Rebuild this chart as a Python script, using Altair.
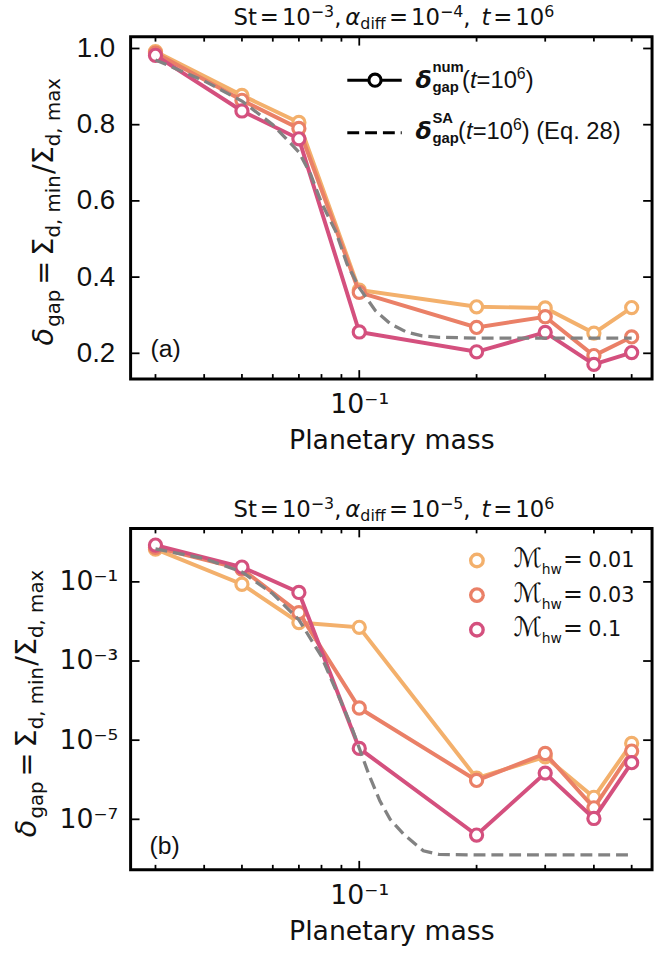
import altair as alt
import pandas as pd

# ---------------- data ----------------
mass = [0.03, 0.05, 0.07, 0.1, 0.2, 0.3, 0.4, 0.5]
hw_labels = ["0.01", "0.03", "0.1"]
hw_colors = ["#f3b06c", "#ea8067", "#d4507e"]

gap_a_hw001 = [0.992, 0.877, 0.806, 0.366, 0.322, 0.319, 0.253, 0.320]
gap_a_hw003 = [0.988, 0.864, 0.790, 0.360, 0.268, 0.296, 0.194, 0.243]
gap_a_hw01 = [0.982, 0.836, 0.763, 0.256, 0.204, 0.255, 0.171, 0.202]

gap_b_hw001 = [0.67, 0.087, 0.0094, 0.0071, 1.1e-6, 3.8e-6, 3.6e-7, 8.3e-6]
gap_b_hw003 = [0.75, 0.21, 0.0167, 6.5e-5, 9.6e-7, 4.6e-6, 1.95e-7, 5.3e-6]
gap_b_hw01 = [0.85, 0.237, 0.054, 6.2e-6, 4.0e-8, 1.47e-6, 1.05e-7, 2.7e-6]

sa_mass_a = [0.03, 0.04, 0.05, 0.06, 0.07, 0.075, 0.08, 0.087, 0.093, 0.1,
             0.11, 0.12, 0.132, 0.145, 0.16, 0.2, 0.3, 0.4, 0.5]
sa_gap_a = [0.970, 0.915, 0.862, 0.800, 0.728, 0.670, 0.595, 0.520, 0.435, 0.372,
            0.312, 0.278, 0.256, 0.246, 0.242, 0.240, 0.240, 0.240, 0.240]

sa_mass_b = [0.03, 0.04, 0.05, 0.06, 0.07, 0.08, 0.085, 0.09, 0.095, 0.1,
             0.106, 0.113, 0.12, 0.13, 0.146, 0.16, 0.2, 0.3, 0.4, 0.5]
sa_gap_b = [0.68, 0.39, 0.178, 0.05, 0.011, 1.3e-3, 3.2e-4, 8.9e-5, 2.5e-5, 6.3e-6,
            1.3e-6, 2.9e-7, 1.0e-7, 4.2e-8, 1.6e-8, 1.3e-8, 1.26e-8, 1.26e-8, 1.26e-8, 1.26e-8]

x_minor_ticks = [0.03, 0.04, 0.05, 0.06, 0.07, 0.08, 0.09, 0.2, 0.3, 0.4, 0.5]
x_major_ticks = [0.1]
x_tick_labels = ["10⁻¹"]
ya_ticks = [0.2, 0.4, 0.6, 0.8, 1.0]
yb_ticks = [1e-7, 1e-5, 1e-3, 1e-1]
yb_tick_labels = ["10⁻⁷", "10⁻⁵", "10⁻³", "10⁻¹"]

# ---------------- layout constants ----------------
W = 527
H_A = 346
H_B = 345
X_DOMAIN = [0.0259, 0.564]
YA_DOMAIN = [0.1325, 1.031]
YB_DOMAIN = [5.3e-9, 2.24]
INK = "#111111"

DV = {' ': 0.318, '(': 0.390, ')': 0.390, ',': 0.318, '.': 0.318, '/': 0.337,
      '=': 0.838, '−': 0.838, 'a': 0.613, 'd': 0.635, 'g': 0.635, 'i': 0.278,
      'm': 0.974, 'n': 0.634, 'p': 0.635, 'x': 0.592, 'δ': 0.612, 'Σ': 0.632,
      'S': 0.635, 't': 0.392, 'α': 0.659, 'f': 0.352, 'h': 0.634, 'w': 0.818}
AR = {' ': 0.278, '(': 0.333, ')': 0.333, '=': 0.584, 't': 0.278, 'E': 0.667,
      'q': 0.556, '.': 0.278}
for _d in "0123456789":
    DV[_d] = 0.636
    AR[_d] = 0.556


def tw(txt, size, table):
    return sum(table.get(c, 0.6) for c in txt) * size


def row(text, x, y, size, font="DejaVu Sans", style="normal", weight="normal", angle=0):
    return dict(text=text, px=x, py=y, size=size, font=font, style=style,
                weight=weight, angle=angle)


def title_rows(exp_text):
    b = -12
    M, S = 23, 16
    # (text, size, dy, style, gap before)
    pieces = [("St", M, 0, "normal", 0), ("=", M, 0, "normal", 3), ("10", M, 0, "normal", 3),
              ("−3", S, -8, "normal", 0), (",", M, 0, "normal", 0), ("α", M, 0, "italic", 4),
              ("diff", S, 4, "normal", 0), ("=", M, 0, "normal", 3), ("10", M, 0, "normal", 3),
              (exp_text, S, -8, "normal", 0), (",", M, 0, "normal", 0), ("t", M, 0, "italic", 11),
              ("=", M, 0, "normal", 3), ("10", M, 0, "normal", 3), ("6", S, -8, "normal", 0)]
    x = 104
    rows = []
    for txt, size, dy, style, pre in pieces:
        x += pre
        rows.append(row(txt, x, b + dy, size, style=style))
        x += tw(txt, size, DV)
    return rows


def ytitle_rows(x_main):
    main, sub = 29, 20
    pieces = [("δ", main, 0, "italic", 0), ("gap", sub, 7, "normal", 1),
              ("=", main, 0, "normal", 5), ("Σ", main, 0, "normal", 5),
              ("d, min", sub, 7, "normal", 0), ("/", main, 0, "normal", 1),
              ("Σ", main, 0, "normal", 0), ("d, max", sub, 7, "normal", 0)]
    y = 312
    rows = []
    for txt, size, dx, style, pre in pieces:
        y -= pre
        rows.append(row(txt, x_main + dx, y, size, style=style, angle=270))
        y -= tw(txt, size, DV)
    return rows


def legend_a_rows():
    rows = []
    LS = "Liberation Sans"
    for base, sup, x0, extra in [(52, "num", 335, ""), (103, "SA", 331, " (Eq. 28)")]:
        rows.append(row("δ", 288, base, 24, style="italic", weight="bold"))
        rows.append(row(sup, 305, base - 16, 15, font=LS, weight="bold"))
        rows.append(row("gap", 305, base + 4, 15, font=LS, weight="bold"))
        x = x0
        rows.append(row("(", x, base, 24, font=LS)); x += tw("(", 24, AR)
        rows.append(row("t", x, base, 24, font=LS, style="italic")); x += tw("t", 24, AR)
        rows.append(row("=10", x, base, 24, font=LS)); x += tw("=10", 24, AR)
        rows.append(row("6", x, base - 9, 16, font=LS)); x += tw("6", 16, AR)
        rows.append(row(")" + extra, x, base, 24, font=LS))
    return rows


def legend_b_rows():
    rows = []
    for lab, base in zip(hw_labels, [39, 74, 109]):
        rows.append(row("ℳ", 387, base, 27))
        rows.append(row("hw", 415.5, base + 7, 14))
        rows.append(row("=", 437, base, 24))
        rows.append(row(lab, 462.5, base, 21))
    return rows


def label_expr(vals, labs):
    expr = "''"
    for v, l in zip(vals[::-1], labs[::-1]):
        expr = f"abs(log(datum.value)/LN10 - log({v:.6g})/LN10) < 0.1 ? '{l}' : " + expr
    return expr


def text_layers(rows):
    df = pd.DataFrame(rows)
    out = []
    for (font, style, weight, angle), g in df.groupby(["font", "style", "weight", "angle"]):
        out.append(
            alt.Chart(g.reset_index(drop=True)).mark_text(
                align="left", baseline="alphabetic", font=font, fontStyle=style,
                fontWeight=weight, angle=int(angle), color=INK
            ).encode(
                x=alt.X("px:Q", scale=None, axis=None),
                y=alt.Y("py:Q", scale=None, axis=None),
                text="text:N",
                size=alt.Size("size:Q", scale=None, legend=None),
            )
        )
    return out


def panel(series, sa_m, sa_v, yscale, yaxis, y_ticks, H, texts, extra_layers):
    xs = alt.Scale(type="log", domain=X_DOMAIN, nice=False)
    xaxis = alt.Axis(values=x_major_ticks, labelExpr=f"'{x_tick_labels[0]}'", ticks=False,
                     tickSize=0, domain=False, grid=False, labelFont="DejaVu Sans",
                     labelFontSize=27, labelColor=INK, labelPadding=13, labelFlush=False,
                     labelOverlap=False, title="Planetary mass", titleFont="DejaVu Sans",
                     titleFontSize=27, titleFontWeight="normal", titleColor=INK,
                     titlePadding=10)
    X = lambda: alt.X("m:Q", scale=xs, axis=xaxis)
    Y = lambda: alt.Y("v:Q", scale=yscale, axis=yaxis)
    one = pd.DataFrame({"k": [0]})
    layers = []
    for vals, color in zip(series, hw_colors):
        df = pd.DataFrame({"m": mass, "v": vals})
        base = alt.Chart(df).encode(x=X(), y=Y())
        layers.append(base.mark_line(color=color, strokeWidth=4))
        layers.append(base.mark_point(shape="circle", size=150, filled=True, fill="white",
                                      stroke=color, strokeWidth=3.2, opacity=1))
    sa = pd.DataFrame({"m": sa_m, "v": sa_v})
    layers.append(alt.Chart(sa).mark_line(color="#828282", strokeWidth=3.3,
                                          strokeDash=[12, 6]).encode(x=X(), y=Y()))
    # inward ticks on all four sides
    for tks, ln in [(x_minor_ticks, 5), (x_major_ticks, 9)]:
        tdf = pd.DataFrame({"m": tks})
        layers.append(alt.Chart(tdf).mark_rule(color="black", strokeWidth=1.8).encode(
            x=X(), y=alt.value(H - ln), y2=alt.value(H)))
        layers.append(alt.Chart(tdf).mark_rule(color="black", strokeWidth=1.8).encode(
            x=X(), y=alt.value(0), y2=alt.value(ln)))
    ydf = pd.DataFrame({"v": y_ticks})
    layers.append(alt.Chart(ydf).mark_rule(color="black", strokeWidth=1.8).encode(
        y=Y(), x=alt.value(0), x2=alt.value(9)))
    layers.append(alt.Chart(ydf).mark_rule(color="black", strokeWidth=1.8).encode(
        y=Y(), x=alt.value(W - 9), x2=alt.value(W)))
    layers += extra_layers(one)
    layers += text_layers(texts)
    return alt.layer(*layers).properties(width=W, height=H)


def legend_a_glyphs(one):
    return [
        alt.Chart(one).mark_rule(color="black", strokeWidth=3).encode(
            x=alt.value(219), x2=alt.value(274), y=alt.value(44)),
        alt.Chart(one).mark_point(shape="circle", size=150, filled=True, fill="white",
                                  stroke="black", strokeWidth=3.2, opacity=1).encode(
            x=alt.value(247), y=alt.value(44)),
        alt.Chart(one).mark_rule(color="black", strokeWidth=3, strokeDash=[12, 6]).encode(
            x=alt.value(219), x2=alt.value(274), y=alt.value(97)),
    ]


def legend_b_glyphs(one):
    ldf = pd.DataFrame({"hw": hw_labels, "ly": [32.4, 67.4, 102.4]})
    return [
        alt.Chart(ldf).mark_point(shape="circle", size=160, filled=True, fill="white",
                                  strokeWidth=3.4, opacity=1).encode(
            x=alt.value(350), y=alt.Y("ly:Q", scale=None, axis=None),
            stroke=alt.Stroke("hw:N", scale=alt.Scale(domain=hw_labels, range=hw_colors),
                              legend=None))
    ]


yaxis_a = alt.Axis(values=ya_ticks, format=".1f", ticks=False, tickSize=0, domain=False,
                   grid=False, labelFont="Liberation Sans", labelFontSize=28, labelColor=INK,
                   labelPadding=16, labelFlush=False, labelOverlap=False, title=None)
yaxis_b = alt.Axis(values=yb_ticks, labelExpr=label_expr(yb_ticks, yb_tick_labels), ticks=False,
                   tickSize=0, domain=False, grid=False, labelFont="DejaVu Sans",
                   labelFontSize=27, labelColor=INK, labelPadding=13, labelFlush=False,
                   labelOverlap=False, title=None)

texts_a = (title_rows("−4") + ytitle_rows(-78) + legend_a_rows()
           + [row("(a)", 20, 324, 25, font="Liberation Sans")])
texts_b = (title_rows("−5") + ytitle_rows(-96) + legend_b_rows()
           + [row("(b)", 19, 329, 25, font="Liberation Sans")])

panel_a = panel([gap_a_hw001, gap_a_hw003, gap_a_hw01], sa_mass_a, sa_gap_a,
                alt.Scale(domain=YA_DOMAIN, nice=False, zero=False), yaxis_a, ya_ticks,
                H_A, texts_a, legend_a_glyphs)
panel_b = panel([gap_b_hw001, gap_b_hw003, gap_b_hw01], sa_mass_b, sa_gap_b,
                alt.Scale(type="log", domain=YB_DOMAIN, nice=False), yaxis_b, yb_ticks,
                H_B, texts_b, legend_b_glyphs)

chart = alt.vconcat(panel_a, panel_b, spacing=39).properties(
    padding={"left": 11, "top": -3, "right": 2, "bottom": 0},
    background="white",
).configure_view(stroke="black", strokeWidth=3)

chart.save("out.html", embed_options={"renderer": "svg", "actions": False})
